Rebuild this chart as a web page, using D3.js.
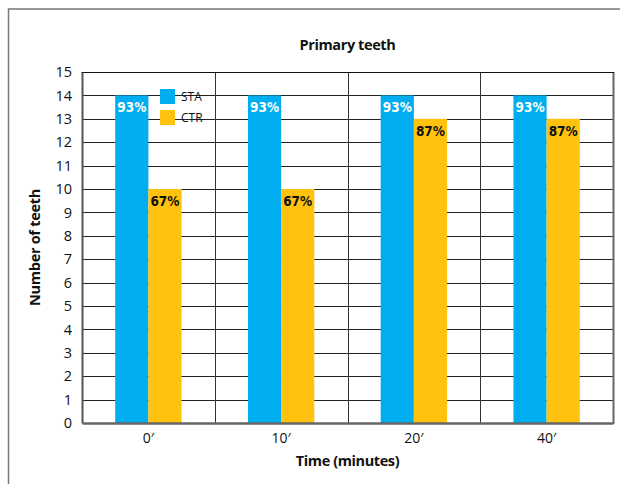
<!DOCTYPE html>
<html>
<head>
<meta charset="utf-8">
<script src="https://cdn.jsdelivr.net/npm/d3@7"></script>
<style>
  html, body { margin: 0; padding: 0; background: #fff; }
  svg { display: block; }
  text { font-family: "Open Sans", "Noto Sans", sans-serif; fill: #111; }
</style>
</head>
<body>
<svg id="chart" width="620" height="484"></svg>
<script>
// Number of teeth per time point, two groups
const categories = ["0\u2032", "10\u2032", "20\u2032", "40\u2032"];
const seriesNames = ["STA", "CTR"];
const staValues = [14, 14, 14, 14];
const ctrValues = [10, 10, 13, 13];
const staLabels = ["93%", "93%", "93%", "93%"];
const ctrLabels = ["67%", "67%", "87%", "87%"];
const yTicks = d3.range(0, 16);

const colors = { STA: "#00AEEF", CTR: "#FFC20E" };
const labelColors = { STA: "#ffffff", CTR: "#111111" };

const svg = d3.select("#chart");
const margin = { left: 82, right: 7, top: 72, bottom: 61 };
const W = 620, H = 484;
const x0 = margin.left, x1 = W - margin.right;
const y0 = H - margin.bottom, y1 = margin.top;

// outer frame (runs off the right and bottom edge)
svg.append("rect")
  .attr("x", 8.5).attr("y", 9)
  .attr("width", 640).attr("height", 500)
  .attr("fill", "none").attr("stroke", "#777").attr("stroke-width", 1.5);

const x = d3.scaleBand().domain(categories).range([x0, x1]).padding(0);
const xs = d3.scaleBand().domain(seriesNames)
  .range([x.bandwidth() * 0.25, x.bandwidth() * 0.75]).padding(0);
const y = d3.scaleLinear().domain([0, 15]).range([y0, y1]);

// horizontal grid lines
svg.append("g").selectAll("line").data(yTicks.slice(1)).join("line")
  .attr("x1", x0).attr("x2", x1)
  .attr("y1", d => Math.round(y(d)) + 0.5).attr("y2", d => Math.round(y(d)) + 0.5)
  .attr("stroke", "#222").attr("stroke-width", 1);

// vertical separators between time points
svg.append("g").selectAll("line").data(categories.slice(1)).join("line")
  .attr("x1", d => Math.round(x(d)) + 0.5).attr("x2", d => Math.round(x(d)) + 0.5)
  .attr("y1", y1).attr("y2", y0)
  .attr("stroke", "#333").attr("stroke-width", 1);

// bars
const rows = [];
categories.forEach((c, i) => {
  rows.push({ cat: c, s: "STA", v: staValues[i], lab: staLabels[i] });
  rows.push({ cat: c, s: "CTR", v: ctrValues[i], lab: ctrLabels[i] });
});

const bars = svg.append("g").selectAll("g").data(rows).join("g");
bars.append("rect")
  .attr("x", d => x(d.cat) + xs(d.s))
  .attr("width", xs.bandwidth())
  .attr("y", d => y(d.v))
  .attr("height", d => y(0) - y(d.v))
  .attr("fill", d => colors[d.s]);
bars.append("text")
  .attr("x", d => x(d.cat) + xs(d.s) + xs.bandwidth() / 2)
  .attr("y", d => y(d.v) + 17)
  .attr("text-anchor", "middle")
  .style("font-family", "'Liberation Sans Narrow', 'DejaVu Sans Condensed', sans-serif")
  .style("font-weight", "bold")
  .style("font-size", "13.5px")
  .style("fill", d => labelColors[d.s])
  .text(d => d.lab);

// right edge and axes
svg.append("line").attr("x1", x1 + 0.5).attr("x2", x1 + 0.5).attr("y1", y1).attr("y2", y0 + 1)
  .attr("stroke", "#666").attr("stroke-width", 2);
svg.append("line").attr("x1", x0 - 0.5).attr("x2", x1 + 1).attr("y1", y1 + 0.5).attr("y2", y1 + 0.5)
  .attr("stroke", "#111").attr("stroke-width", 1);

const yAxis = svg.append("g").attr("transform", `translate(${x0},0)`)
  .call(d3.axisLeft(y).tickValues(yTicks).tickSize(0).tickPadding(10));
yAxis.select(".domain").attr("stroke", "#555").attr("stroke-width", 2);
yAxis.selectAll("text").style("font-size", "14.5px").style("fill", "#111")
  .style("font-family", "'Open Sans', sans-serif");

const xAxis = svg.append("g").attr("transform", `translate(0,${y0})`)
  .call(d3.axisBottom(x).tickSize(0).tickPadding(10));
xAxis.select(".domain").attr("stroke", "#666").attr("stroke-width", 2.5);
xAxis.selectAll("text").style("font-size", "14px").style("fill", "#111")
  .style("font-family", "'Open Sans', sans-serif");

// titles
svg.append("text").attr("x", (x0 + x1) / 2).attr("y", 50)
  .attr("text-anchor", "middle").style("font-weight", "bold").style("font-size", "14.5px")
  .style("letter-spacing", "-0.4px")
  .text("Primary teeth");
svg.append("text").attr("x", (x0 + x1) / 2).attr("y", 466)
  .attr("text-anchor", "middle").style("font-weight", "bold").style("font-size", "14.5px")
  .style("letter-spacing", "-0.4px")
  .text("Time (minutes)");
svg.append("text").attr("transform", `translate(40,${(y0 + y1) / 2}) rotate(-90)`)
  .attr("text-anchor", "middle").style("font-weight", "bold").style("font-size", "14.5px")
  .style("letter-spacing", "-0.3px")
  .text("Number of teeth");

// legend
const legend = svg.append("g").attr("transform", "translate(160,89)");
seriesNames.forEach((s, i) => {
  const g = legend.append("g").attr("transform", `translate(0,${i * 21})`);
  g.append("rect").attr("width", 15).attr("height", 15).attr("fill", colors[s]);
  g.append("text").attr("x", 21).attr("y", 12).style("font-size", "12px").text(s);
});
</script>
</body>
</html>
